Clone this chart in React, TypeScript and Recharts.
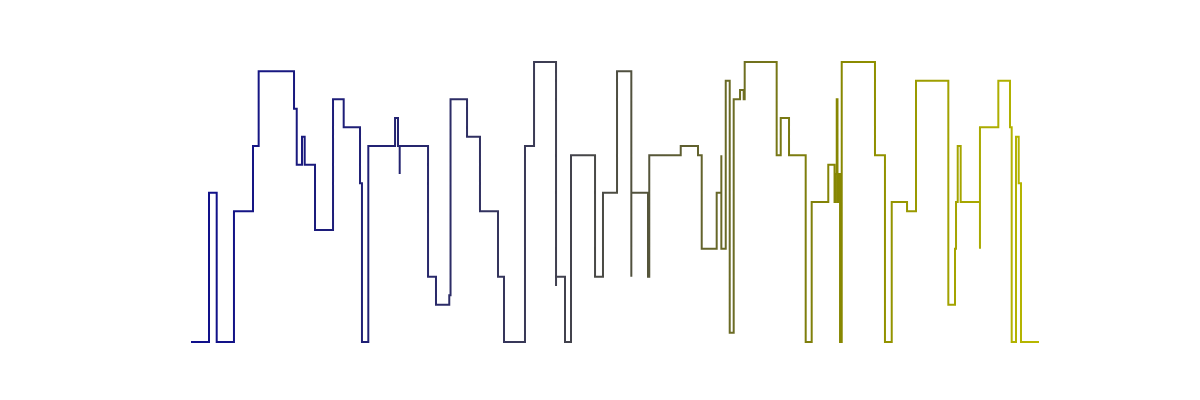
import React from "react";
import { LineChart, Line, XAxis, YAxis } from "recharts";

// corner positions of the step trace (x in 0..100, level in 0..30)
const xs = [
  0, 2.01, 2.92, 4.96, 7.21, 7.88, 12.06, 12.38, 13.0, 13.32, 14.54, 16.67, 17.93, 19.86, 20.09, 20.84,
  24.0, 24.35, 24.55, 24.55, 27.9, 28.84, 30.41, 30.56, 32.51, 34.04, 36.17, 36.88, 39.36, 40.43,
  43.03, 43.03, 44.09, 44.8, 47.64, 48.58, 50.24, 51.93, 51.93, 53.9, 54.05, 54.05, 57.77, 59.81,
  60.25, 62.02, 62.57, 62.57, 63.09, 63.56, 64.03, 64.78, 65.21, 65.33, 69.11, 69.59, 70.57, 72.54,
  73.25, 75.21, 75.95, 76.06, 76.21, 76.3, 76.42, 76.6, 76.8, 80.73, 81.91, 82.71, 84.52, 85.58,
  89.4, 90.19, 90.31, 90.51, 90.86, 93.14, 93.14, 95.31, 96.69, 96.89, 97.4, 97.72, 97.99, 100,
];
const levels = [
  0, 16, 0, 14, 21, 29, 25, 19, 22, 19, 12, 26, 23, 17, 0, 21,
  24, 21, 18, 21, 7, 4, 5, 26, 22, 14, 7, 0, 21, 30,
  6, 7, 0, 20, 7, 16, 29, 7, 16, 7, 8, 20, 21, 20,
  10, 16, 20, 10, 28, 1, 26, 27, 26, 30, 20, 24, 20, 0,
  15, 19, 15, 18, 26, 15, 18, 0, 30, 20, 0, 15, 14, 28,
  4, 10, 15, 21, 15, 10, 23, 28, 23, 0, 22, 17, 0, 0,
];

const data = xs.map((x, i) => ({ x, v: levels[i] }));

export default function App() {
  return (
    <div style={{ position: "absolute", left: 0, top: 0, width: 1200, height: 400, background: "#fff" }}>
      <LineChart width={1200} height={400} data={data} margin={{ top: 62, right: 162, bottom: 58, left: 192 }}>
        <defs>
          <linearGradient id="trace" x1="0" y1="0" x2="1" y2="0">
            <stop offset="0%" stopColor="#0f0f8c" />
            <stop offset="25%" stopColor="#242470" />
            <stop offset="40%" stopColor="#3a3a56" />
            <stop offset="54%" stopColor="#55553a" />
            <stop offset="65%" stopColor="#6e6e22" />
            <stop offset="77%" stopColor="#888800" />
            <stop offset="100%" stopColor="#b8b800" />
          </linearGradient>
        </defs>
        <XAxis hide type="number" dataKey="x" domain={[0, 100]} />
        <YAxis hide type="number" domain={[0, 30]} />
        <Line
          type="stepAfter"
          dataKey="v"
          stroke="url(#trace)"
          strokeWidth={2}
          strokeLinecap="square"
          strokeLinejoin="miter"
          dot={false}
          activeDot={false}
          isAnimationActive={false}
        />
      </LineChart>
    </div>
  );
}
